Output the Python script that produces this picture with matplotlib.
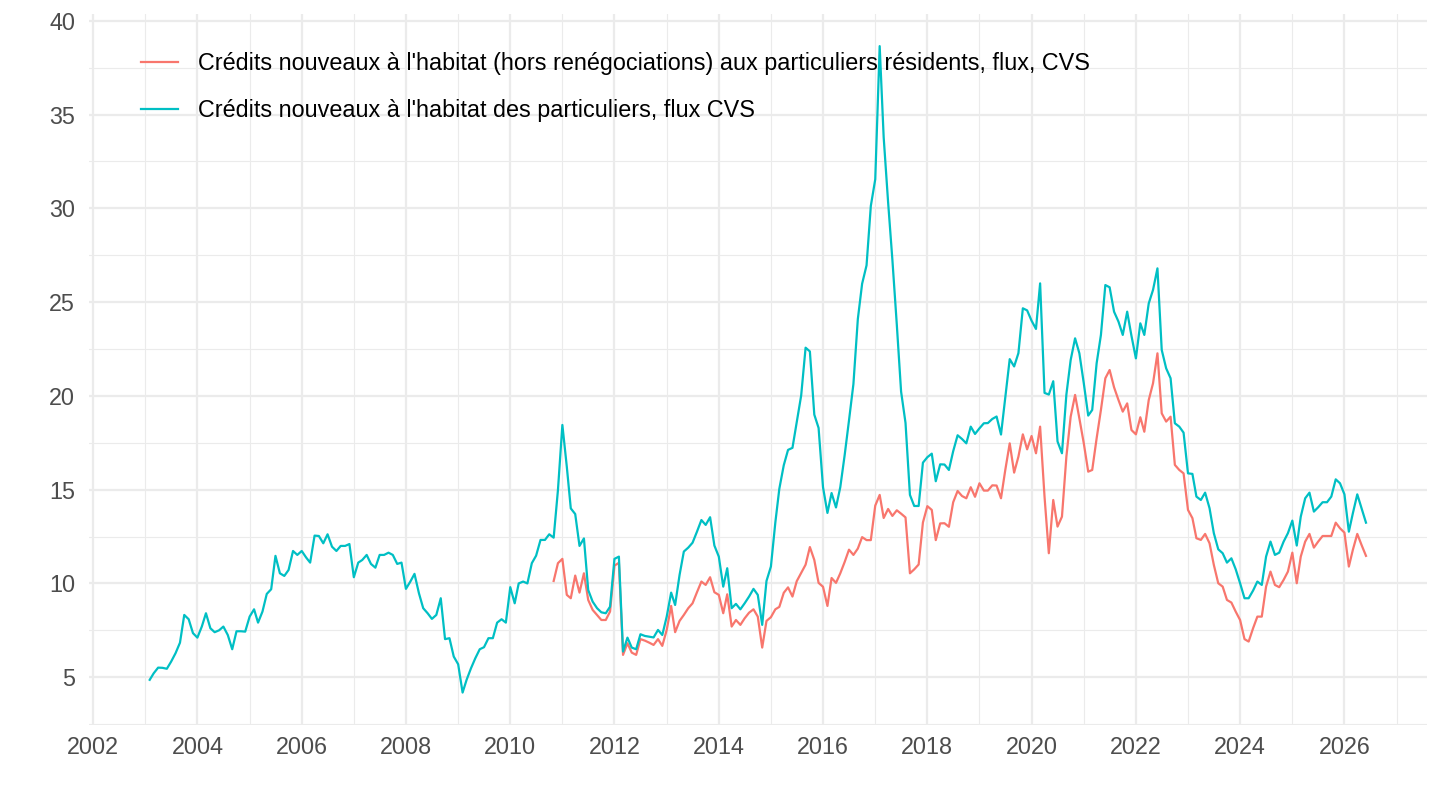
import matplotlib
matplotlib.use("Agg")
import matplotlib.pyplot as plt
import matplotlib.dates as mdates
from matplotlib.ticker import MultipleLocator
import pandas as pd

plt.rcParams['font.family'] = ['Liberation Sans', 'DejaVu Sans']

# Crédits nouveaux à l'habitat des particuliers, flux CVS (monthly from 2003-02)
teal_start = '2003-02-01'
teal_values = [
    4.86, 5.21, 5.51, 5.5, 5.45, 5.83, 6.28, 6.84, 8.32, 8.09, 7.35, 7.11,
    7.7, 8.41, 7.61, 7.4, 7.5, 7.7, 7.25, 6.49, 7.45, 7.45, 7.43, 8.23,
    8.62, 7.91, 8.5, 9.44, 9.69, 11.47, 10.54, 10.4, 10.72, 11.73, 11.52, 11.73,
    11.38, 11.11, 12.55, 12.53, 12.14, 12.62, 11.96, 11.73, 12.0, 12.0, 12.1, 10.33,
    11.11, 11.25, 11.52, 11.04, 10.84, 11.52, 11.52, 11.64, 11.52, 11.04, 11.11, 9.71,
    10.1, 10.51, 9.48, 8.68, 8.41, 8.11, 8.32, 9.21, 7.03, 7.08, 6.1, 5.69,
    4.18, 4.86, 5.48, 6.01, 6.49, 6.6, 7.08, 7.08, 7.91, 8.09, 7.91, 9.8,
    8.94, 10.0, 10.1, 10.0, 11.08, 11.48, 12.32, 12.32, 12.62, 12.44, 14.98, 18.45,
    16.23, 14.0, 13.7, 12.0, 12.4, 9.65, 9.03, 8.68, 8.46, 8.41, 8.76, 11.31,
    11.43, 6.37, 7.11, 6.58, 6.49, 7.29, 7.2, 7.16, 7.12, 7.52, 7.25, 8.23,
    9.51, 8.85, 10.45, 11.7, 11.91, 12.17, 12.76, 13.38, 13.12, 13.53, 12.02, 11.43,
    9.83, 10.81, 8.68, 8.91, 8.62, 8.94, 9.3, 9.71, 9.39, 7.79, 10.13, 10.9,
    13.25, 15.05, 16.3, 17.12, 17.23, 18.62, 20.02, 22.57, 22.37, 19.0, 18.29, 15.13,
    13.76, 14.82, 14.05, 15.13, 16.86, 18.69, 20.63, 24.1, 25.98, 26.96, 30.13, 31.55,
    38.65, 33.79, 30.33, 27.26, 23.8, 20.23, 18.56, 14.72, 14.13, 14.13, 16.44, 16.73,
    16.92, 15.45, 16.35, 16.34, 16.05, 17.05, 17.9, 17.7, 17.47, 18.36, 17.97, 18.27,
    18.54, 18.55, 18.77, 18.9, 17.94, 19.93, 21.96, 21.57, 22.28, 24.67, 24.56, 24.01,
    23.57, 26.0, 20.16, 20.07, 20.78, 17.57, 16.94, 20.07, 21.91, 23.07, 22.27, 20.67,
    18.95, 19.25, 21.74, 23.25, 25.91, 25.79, 24.49, 23.96, 23.25, 24.49, 23.2, 22.0,
    23.87, 23.25, 24.93, 25.65, 26.8, 22.45, 21.47, 20.94, 18.54, 18.36, 18.04, 15.87,
    15.84, 14.63, 14.45, 14.84, 14.01, 12.68, 11.82, 11.61, 11.11, 11.34, 10.76, 10.01,
    9.21, 9.21, 9.62, 10.1, 9.92, 11.43, 12.23, 11.52, 11.64, 12.23, 12.68, 13.35,
    12.02, 13.56, 14.54, 14.84, 13.83, 14.06, 14.33, 14.33, 14.63, 15.55, 15.34, 14.75,
    12.76, 13.74, 14.75, 14.01, 13.24,
]

# Crédits nouveaux à l'habitat (hors renégociations) ... (monthly from 2010-11)
red_start = '2010-11-01'
red_values = [
    10.13, 11.08, 11.31, 9.39, 9.21, 10.42, 9.51, 10.54, 9.12, 8.59, 8.32, 8.05,
    8.05, 8.5, 10.95, 11.1, 6.19, 6.81, 6.31, 6.19, 7.03, 6.95, 6.84, 6.72,
    7.03, 6.67, 7.52, 8.8, 7.4, 8.0, 8.32, 8.68, 8.94, 9.53, 10.1, 9.92,
    10.33, 9.53, 9.39, 8.41, 9.42, 7.7, 8.05, 7.79, 8.14, 8.44, 8.62, 8.23,
    6.58, 8.0, 8.2, 8.62, 8.75, 9.5, 9.79, 9.3, 10.12, 10.56, 11.0, 11.94,
    11.25, 10.03, 9.82, 8.8, 10.29, 10.03, 10.54, 11.15, 11.8, 11.52, 11.86, 12.47,
    12.31, 12.31, 14.15, 14.72, 13.49, 13.97, 13.6, 13.9, 13.72, 13.52, 10.54, 10.75,
    11.01, 13.25, 14.12, 13.92, 12.31, 13.2, 13.21, 13.02, 14.33, 14.93, 14.66, 14.54,
    15.13, 14.62, 15.34, 14.95, 14.95, 15.23, 15.22, 14.54, 16.05, 17.47, 15.91, 16.76,
    17.95, 17.15, 17.86, 16.94, 18.36, 14.62, 11.61, 14.45, 13.03, 13.56, 16.76, 18.89,
    20.05, 18.8, 17.47, 15.96, 16.05, 17.74, 19.25, 20.94, 21.38, 20.46, 19.78, 19.16,
    19.6, 18.18, 17.95, 18.86, 18.09, 19.78, 20.67, 22.27, 19.07, 18.63, 18.89, 16.32,
    16.05, 15.87, 13.92, 13.48, 12.41, 12.32, 12.64, 12.14, 10.99, 10.01, 9.83, 9.12,
    8.98, 8.5, 8.05, 7.03, 6.9, 7.61, 8.23, 8.23, 9.83, 10.63, 9.92, 9.8,
    10.19, 10.63, 11.64, 10.01, 11.43, 12.23, 12.64, 11.91, 12.23, 12.53, 12.53, 12.53,
    13.24, 12.94, 12.71, 10.9, 11.79, 12.64, 12.05, 11.47,
]

red_label = "Crédits nouveaux à l'habitat (hors renégociations) aux particuliers résidents, flux, CVS"
teal_label = "Crédits nouveaux à l'habitat des particuliers, flux CVS"

teal_dates = pd.date_range(teal_start, periods=len(teal_values), freq='MS')
red_dates = pd.date_range(red_start, periods=len(red_values), freq='MS')

W, H = 1440, 810
fig = plt.figure(figsize=(W / 100, H / 100), dpi=100)
ax = fig.add_axes([88.9 / W, 1 - 724.9 / H, 1337.9 / W, (724.9 - 13.8) / H])

ax.plot(red_dates, red_values, color='#F8766D', lw=1.6, label=red_label, zorder=3)
ax.plot(teal_dates, teal_values, color='#00BFC4', lw=1.6, label=teal_label, zorder=3)

ax.margins(x=0.05, y=0.05)

ax.xaxis.set_major_locator(mdates.YearLocator(2))
ax.xaxis.set_minor_locator(mdates.YearLocator(1))
ax.xaxis.set_major_formatter(mdates.DateFormatter('%Y'))
ax.yaxis.set_major_locator(MultipleLocator(5))
ax.yaxis.set_minor_locator(MultipleLocator(2.5))

ax.grid(which='major', color='#EBEBEB', lw=1.6, zorder=0)
ax.grid(which='minor', color='#EBEBEB', lw=0.8, zorder=0)
ax.set_axisbelow(True)
for s in ax.spines.values():
    s.set_visible(False)
ax.tick_params(which='both', length=0, labelsize=16.8, labelcolor='#4D4D4D')
ax.tick_params(axis='x', pad=8)
ax.tick_params(axis='y', pad=10)

leg = ax.legend(loc='upper left', bbox_to_anchor=(141.0 / W, 1 - 52 / H),
                bbox_transform=fig.transFigure, frameon=False, fontsize=16.8,
                handlelength=1.6, handletextpad=0.85, labelspacing=1.05,
                borderpad=0, borderaxespad=0)
for t in leg.get_texts():
    t.set_color('black')

fig.savefig('out.png', dpi=100, facecolor='white')
